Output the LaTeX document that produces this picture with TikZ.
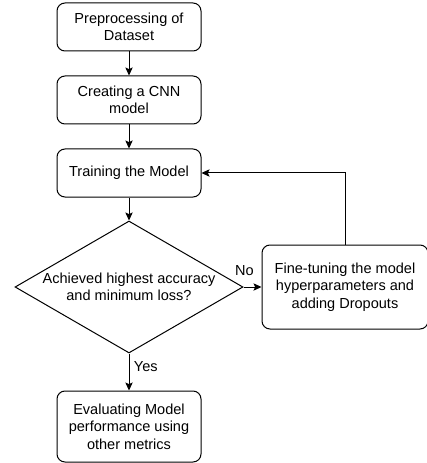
\documentclass[tikz,border=0pt]{standalone}
\usepackage{fontspec}
\setmainfont{Liberation Sans}
\usetikzlibrary{shapes.geometric,arrows.meta,positioning}

\begin{document}
\begin{tikzpicture}[
    font=\fontsize{10.9pt}{13.2pt}\selectfont,
    >={Stealth[length=6pt,width=5.5pt,inset=1.2pt]},
    line width=0.75pt,
    process/.style={rectangle, draw, rounded corners=6pt, align=center, minimum width=108pt, minimum height=36pt, inner sep=2pt},
    decision/.style={diamond, draw, minimum width=171pt, minimum height=99pt, inner sep=0pt}
  ]
    \useasboundingbox (0,0) rectangle (320.25pt,-347.25pt);

    \node (prep) [process] at (96.75pt,-20.25pt) {Preprocessing of\\Dataset};
    \node (cnn) [process, below=18pt of prep] {Creating a CNN\\model};
    \node (train) [process, below=18pt of cnn] {Training the Model};
    \node (check) [decision, below=17.25pt of train] {};
    \node (checktext) [align=center] at (check.center) {Achieved highest accuracy\\and minimum loss?};
    \node (tune) [process, right=13.5pt of check, minimum width=124.5pt, minimum height=63pt] {Fine-tuning the model\\hyperparameters and\\adding Dropouts};
    \node (eval) [process, below=27.75pt of check, minimum height=53.25pt] {Evaluating Model\\performance using\\other metrics};

    \draw [->] (prep) -- (cnn);
    \draw [->] (cnn) -- (train);
    \draw [->] (train) -- (check);
    \draw [->] (check) -- node[pos=0.05, above=5pt] {No} (tune);
    \draw [->] (check) -- node[pos=0.35, right] {Yes} (eval);
    \draw [->] (tune.north) |- (train.east);
\end{tikzpicture}
\end{document}
